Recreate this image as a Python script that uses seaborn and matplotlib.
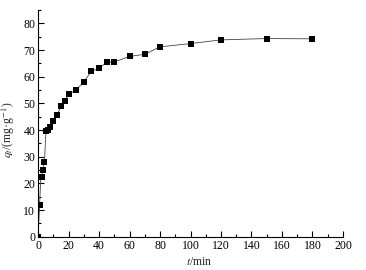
import numpy as np
import pandas as pd
import matplotlib
matplotlib.use("Agg")
import matplotlib.pyplot as plt
import seaborn as sns
from matplotlib.ticker import MultipleLocator

# temps de contact (min) et capacité d'adsorption q_t (mg/g)
time_min = [0, 1, 1.8, 2.6, 3.2, 4.2, 5.2, 6.5, 8, 10, 12.5, 15, 17.5, 20,
            25, 30, 35, 40, 45, 50, 60, 70, 80, 100, 120, 150, 180]
qt_values = [0, 11.8, 22.4, 22.5, 25.2, 28.0, 39.8, 40.0, 41.2, 43.5, 45.6,
             48.9, 50.9, 53.5, 55.0, 58.1, 62.0, 63.1, 65.4, 65.5, 67.6,
             68.4, 71.2, 72.4, 73.8, 74.3, 74.2]
x_ticks = [0, 20, 40, 60, 80, 100, 120, 140, 160, 180, 200]
y_ticks = [0, 10, 20, 30, 40, 50, 60, 70, 80]

df = pd.DataFrame({"t": time_min, "qt": qt_values})

sns.set_style("ticks")
plt.rcParams["font.family"] = ["Liberation Serif", "DejaVu Serif"]
plt.rcParams["mathtext.fontset"] = "stix"

fig = plt.figure(figsize=(3.66, 2.70), dpi=100)
ax = fig.add_axes([0.104, 0.123, 0.833, 0.840])

sns.lineplot(data=df, x="t", y="qt", ax=ax, color="#444444", linewidth=0.6,
             marker="s", markersize=3.8, markerfacecolor="black",
             markeredgecolor="black", markeredgewidth=0)

ax.set_xlim(0, 200)
ax.set_ylim(0, 85)
ax.set_xticks(x_ticks)
ax.set_yticks(y_ticks)
ax.xaxis.set_minor_locator(MultipleLocator(10))
ax.yaxis.set_minor_locator(MultipleLocator(5))
ax.tick_params(which="both", direction="in", labelsize=8.5, width=0.8,
               colors="black", pad=2)
ax.tick_params(which="major", length=4)
ax.tick_params(which="minor", length=2)

sns.despine(ax=ax)
for s in ["left", "bottom"]:
    ax.spines[s].set_linewidth(0.8)
    ax.spines[s].set_color("black")

ax.set_xlabel("$t$/min", fontsize=8.5)
ax.set_ylabel("$q_t$/(mg·g$^{-1}$)", fontsize=8.5)
ax.xaxis.set_label_coords(0.53, -0.085)
ax.yaxis.set_label_coords(-0.07, 0.47)

fig.savefig("out.png", dpi=100)
